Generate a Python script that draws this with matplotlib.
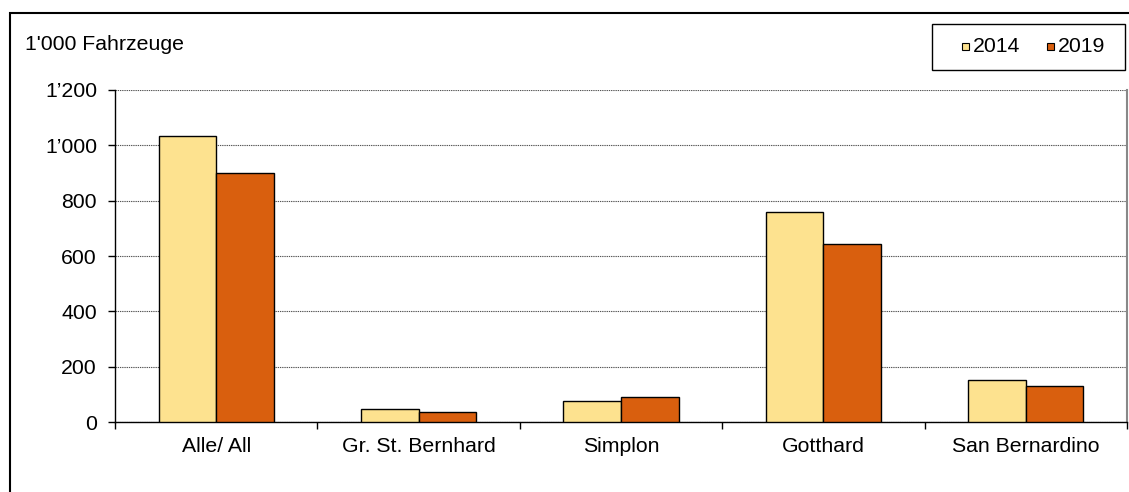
import numpy as np
import matplotlib.pyplot as plt
from matplotlib.patches import Rectangle
from matplotlib.ticker import FuncFormatter

plt.rcParams['font.family'] = ['Liberation Sans', 'DejaVu Sans']

# Data (1'000 vehicles)
passes = ['Alle/ All', 'Gr. St. Bernhard', 'Simplon', 'Gotthard', 'San Bernardino']
v2014 = [1033, 46, 77, 759, 152]
v2019 = [899, 35, 89, 643, 130]
years = ['2014', '2019']
colors = ['#FDE28F', '#D95F0E']

W, H = 1129, 492
fs = 15.3
fig = plt.figure(figsize=(W / 100, H / 100), dpi=100)

# outer frame (right edge falls outside the picture)
fig.patches.append(Rectangle((10 / W, -0.05), 1.2, (H - 13) / H + 0.05,
                             transform=fig.transFigure, fill=False,
                             edgecolor='black', linewidth=1.5))

ax = fig.add_axes([115 / W, (H - 422) / H, 1012 / W, 332 / H])

x = np.arange(len(passes))
bw = 0.285
ax.bar(x - bw / 2, v2014, bw, color=colors[0], edgecolor='black', linewidth=1, zorder=3)
ax.bar(x + bw / 2, v2019, bw, color=colors[1], edgecolor='black', linewidth=1, zorder=3)

ax.set_xlim(-0.5, len(passes) - 0.5)
ax.set_ylim(0, 1200)
ax.set_yticks(np.arange(0, 1201, 200))
ax.yaxis.set_major_formatter(FuncFormatter(
    lambda v, p: f"{int(v) // 1000}\u2019{int(v) % 1000:03d}" if v >= 1000 else f"{int(v)}"))
ax.grid(axis='y', linestyle=(0, (1.2, 0.8)), color='#555555', linewidth=0.8, zorder=0)

ax.set_xticks(np.arange(-0.5, len(passes)), labels=[''] * (len(passes) + 1))
ax.set_xticks(x, labels=passes, minor=True)
ax.tick_params(axis='x', which='minor', length=0, pad=11, labelsize=fs)
ax.tick_params(axis='x', which='major', length=5, width=1, direction='out')
ax.tick_params(axis='y', length=5, width=1, pad=8, labelsize=fs)

ax.spines['top'].set_visible(False)
ax.spines['right'].set_color('#888888')
ax.spines['right'].set_linewidth(1.5)
for s in ['left', 'bottom']:
    ax.spines[s].set_linewidth(1)

fig.text(25 / W, (H - 44) / H, "1'000 Fahrzeuge", fontsize=fs, va='center', ha='left')

# legend box
fig.patches.append(Rectangle((932 / W, (H - 70) / H), 193 / W, 46 / H,
                             transform=fig.transFigure, facecolor='white',
                             edgecolor='black', linewidth=1))
for i, (lab, c) in enumerate(zip(years, colors)):
    x0 = 962 + i * 85
    fig.patches.append(Rectangle((x0 / W, (H - 50) / H), 7 / W, 7 / H,
                                 transform=fig.transFigure, facecolor=c,
                                 edgecolor='black', linewidth=0.8))
    fig.text((x0 + 11) / W, (H - 46.5) / H, lab, fontsize=fs, va='center', ha='left')

fig.savefig('out.png', dpi=100)
